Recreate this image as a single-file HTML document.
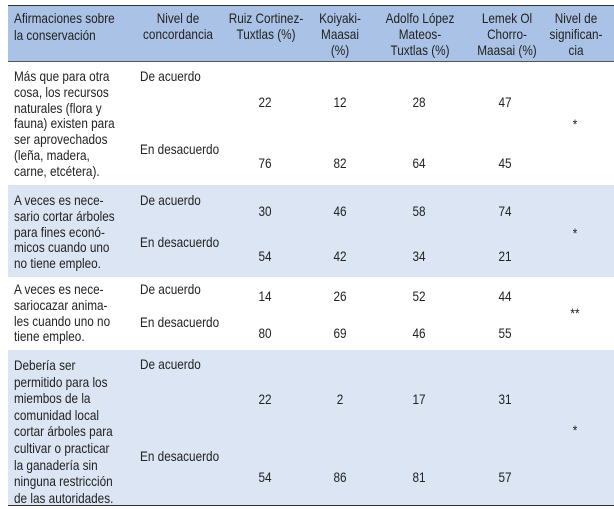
<!DOCTYPE html>
<html><head><meta charset="utf-8"><style>
body{margin:0;width:614px;height:509px;background:#fff;position:relative;overflow:hidden;
font-family:"Liberation Sans",sans-serif;font-size:14px;color:#222;}
.b{position:absolute;left:8px;width:606px;}
.t{position:absolute;line-height:15.8px;white-space:nowrap;transform:scaleX(.84);transform-origin:0 0;}
.c{position:absolute;width:100px;text-align:center;line-height:16px;white-space:nowrap;transform:scaleX(.84);}
</style></head><body>
<div class="b" style="top:5px;height:55px;background:#a9c2e5;border-top:1px solid #333;border-bottom:1px solid #555;"></div>
<div class="b" style="top:185px;height:92px;background:#dbe5f3;"></div>
<div class="b" style="top:350px;height:155px;background:#dbe5f3;border-bottom:1px solid #333;"></div>

<div class="t" style="left:14px;top:10px;line-height:16.5px">Afirmaciones sobre<br>la conservación</div>
<div class="c" style="left:128px;top:10px">Nivel de<br>concordancia</div>
<div class="c" style="left:216px;top:10px">Ruiz Cortinez-<br>Tuxtlas (%)</div>
<div class="c" style="left:290px;top:10px">Koiyaki-<br>Maasai<br>(%)</div>
<div class="c" style="left:370px;top:10px">Adolfo López<br>Mateos-<br>Tuxtlas (%)</div>
<div class="c" style="left:457px;top:10px">Lemek Ol<br>Chorro-<br>Maasai (%)</div>
<div class="c" style="left:526px;top:10px">Nivel de<br>significan-<br>cia</div>

<div class="t" style="left:14px;top:69px">Más que para otra<br>cosa, los recursos<br>naturales (flora y<br>fauna) existen para<br>ser aprovechados<br>(leña, madera,<br>carne, etcétera).</div>
<div class="t" style="left:140px;top:69px">De acuerdo</div>
<div class="t" style="left:140px;top:142px">En desacuerdo</div>
<div class="c" style="left:215px;top:94px">22</div><div class="c" style="left:290px;top:94px">12</div><div class="c" style="left:369px;top:94px">28</div><div class="c" style="left:455px;top:94px">47</div>
<div class="c" style="left:215px;top:155px">76</div><div class="c" style="left:290px;top:155px">82</div><div class="c" style="left:369px;top:155px">64</div><div class="c" style="left:455px;top:155px">45</div>
<div class="c" style="left:525px;top:116px">*</div>

<div class="t" style="left:14px;top:193px">A veces es nece-<br>sario cortar árboles<br>para fines econó-<br>micos cuando uno<br>no tiene empleo.</div>
<div class="t" style="left:140px;top:193px">De acuerdo</div>
<div class="t" style="left:140px;top:235px">En desacuerdo</div>
<div class="c" style="left:215px;top:203px">30</div><div class="c" style="left:290px;top:203px">46</div><div class="c" style="left:369px;top:203px">58</div><div class="c" style="left:455px;top:203px">74</div>
<div class="c" style="left:215px;top:248px">54</div><div class="c" style="left:290px;top:248px">42</div><div class="c" style="left:369px;top:248px">34</div><div class="c" style="left:455px;top:248px">21</div>
<div class="c" style="left:525px;top:225px">*</div>

<div class="t" style="left:14px;top:282px">A veces es nece-<br>sariocazar anima-<br>les cuando uno no<br>tiene empleo.</div>
<div class="t" style="left:140px;top:282px">De acuerdo</div>
<div class="t" style="left:140px;top:315px">En desacuerdo</div>
<div class="c" style="left:215px;top:288px">14</div><div class="c" style="left:290px;top:288px">26</div><div class="c" style="left:369px;top:288px">52</div><div class="c" style="left:455px;top:288px">44</div>
<div class="c" style="left:215px;top:325px">80</div><div class="c" style="left:290px;top:325px">69</div><div class="c" style="left:369px;top:325px">46</div><div class="c" style="left:455px;top:325px">55</div>
<div class="c" style="left:525px;top:305px">**</div>

<div class="t" style="left:14px;top:357px;line-height:16.6px">Debería ser<br>permitido para los<br>miembos de la<br>comunidad local<br>cortar árboles para<br>cultivar o practicar<br>la ganadería sin<br>ninguna restricción<br>de las autoridades.</div>
<div class="t" style="left:140px;top:357px">De acuerdo</div>
<div class="t" style="left:140px;top:449px">En desacuerdo</div>
<div class="c" style="left:215px;top:391px">22</div><div class="c" style="left:290px;top:391px">2</div><div class="c" style="left:369px;top:391px">17</div><div class="c" style="left:455px;top:391px">31</div>
<div class="c" style="left:215px;top:469px">54</div><div class="c" style="left:290px;top:469px">86</div><div class="c" style="left:369px;top:469px">81</div><div class="c" style="left:455px;top:469px">57</div>
<div class="c" style="left:525px;top:422px">*</div>
</body></html>
